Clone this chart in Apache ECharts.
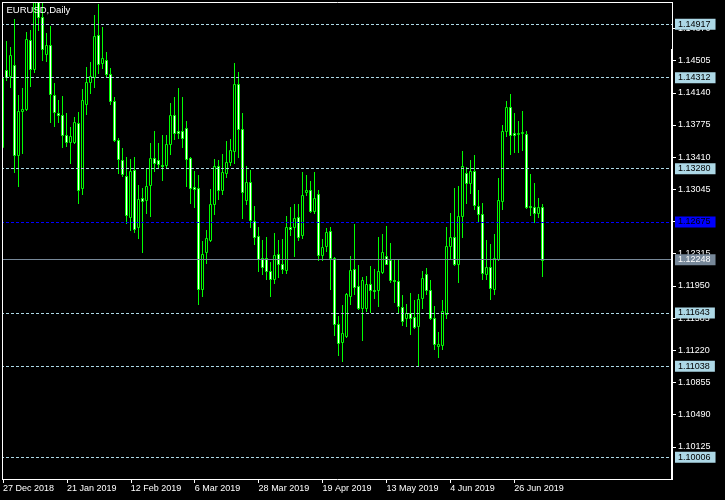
<!DOCTYPE html>
<html><head><meta charset="utf-8">
<script src="https://cdn.jsdelivr.net/npm/echarts@6/dist/echarts.min.js"></script>
<style>html,body{margin:0;padding:0;background:#000;}#c{width:725px;height:500px;}</style>
</head><body><div id="c"></div>
<script>
// ---- data ----
const symbolTitle = 'EURUSD,Daily';
const months = ['Dec 2018','Jan 2019','Feb 2019','Mar 2019','Apr 2019','May 2019','Jun 2019','Jul 2019'];
const monthDays = [
  [27,28,31],
  [2,3,4,7,8,9,10,11,14,15,16,17,18,21,22,23,24,25,28,29,30,31],
  [1,4,5,6,7,8,11,12,13,14,15,18,19,20,21,22,25,26,27,28],
  [1,4,5,6,7,8,11,12,13,14,15,18,19,20,21,22,25,26,27,28,29],
  [1,2,3,4,5,8,9,10,11,12,15,16,17,18,19,22,23,24,25,26,29,30],
  [1,2,3,6,7,8,9,10,13,14,15,16,17,20,21,22,23,24,27,28,29,30,31],
  [3,4,5,6,7,10,11,12,13,14,17,18,19,20,21,24,25,26,27,28],
  [1,2,3,4,5]
];
const opens = [1.13528,1.14399,1.14331,1.14452,1.13434,1.13929,1.13960,1.14735,1.14406,1.15380,
1.14997,1.14576,1.14679,1.14111,1.13907,1.13884,1.13657,1.13585,1.13585,1.13793,
1.13063,1.14009,1.14259,1.14315,1.14796,1.14474,1.14508,1.14353,1.14043,1.13608,
1.13373,1.13192,1.12734,1.13260,1.12616,1.12949,1.12919,1.13089,1.13396,1.13373,
1.13324,1.13320,1.13562,1.13884,1.13706,1.13706,1.13736,1.13396,1.13067,1.13055,
1.11920,1.12336,1.12473,1.12874,1.13305,1.13040,1.13226,1.13350,1.13483,1.14240,
1.13725,1.12930,1.13123,1.12681,1.12514,1.12261,1.12261,1.12117,1.12034,1.12317,
1.12196,1.12136,1.12613,1.12620,1.12737,1.12529,1.13017,1.13033,1.12794,1.12987,
1.12306,1.12397,1.12571,1.12272,1.11515,1.11318,1.11387,1.11841,1.12147,1.11947,
1.11704,1.11704,1.11977,1.11909,1.11909,1.12113,1.12291,1.12242,1.12022,1.12007,
1.11716,1.11591,1.11644,1.11602,1.11496,1.11814,1.12090,1.11909,1.11591,1.11273,
1.11284,1.11636,1.12404,1.12507,1.12193,1.12745,1.13226,1.13112,1.13248,1.12859,
1.12760,1.12083,1.12166,1.11920,1.12253,1.12908,1.13702,1.13975,1.13680,1.13676,
1.13680,1.13668,1.12855,1.12847,1.12772,1.12840];
const highs = [1.14361,1.14732,1.14664,1.14978,1.14115,1.14191,1.14826,1.14853,1.15660,1.15670,
1.15350,1.14815,1.14898,1.14247,1.14058,1.14107,1.13907,1.13755,1.13869,1.13922,
1.14183,1.14436,1.14493,1.15023,1.15144,1.14891,1.14607,1.14418,1.14088,1.13623,
1.13509,1.13415,1.13385,1.13415,1.13093,1.13055,1.13271,1.13566,1.13706,1.13574,
1.13661,1.13665,1.14028,1.14096,1.14194,1.14096,1.13820,1.13415,1.13252,1.13207,
1.12457,1.12582,1.13048,1.13385,1.13377,1.13445,1.13593,1.13619,1.14478,1.14376,
1.13911,1.13309,1.13263,1.12855,1.12620,1.12469,1.12503,1.12223,1.12552,1.12469,
1.12480,1.12741,1.12843,1.12877,1.12881,1.13241,1.13207,1.13139,1.13241,1.13036,
1.12480,1.12609,1.12613,1.12276,1.11606,1.11731,1.11871,1.12287,1.12650,1.12185,
1.12052,1.12060,1.12174,1.12140,1.12503,1.12537,1.12624,1.12431,1.12242,1.12242,
1.11844,1.11742,1.11875,1.11795,1.11863,1.12117,1.12155,1.12015,1.11720,1.11428,
1.11795,1.12613,1.12772,1.13063,1.13082,1.13479,1.13294,1.13377,1.13434,1.13036,
1.12885,1.12469,1.12423,1.12537,1.13173,1.13774,1.14047,1.14126,1.13907,1.13820,
1.13933,1.13706,1.13218,1.13116,1.12946,1.12881];
const lows = [1.13490,1.14285,1.14209,1.13245,1.13086,1.13453,1.13945,1.14217,1.14380,1.14850,
1.14512,1.14501,1.13812,1.13763,1.13812,1.13528,1.13540,1.13347,1.13566,1.12885,
1.12998,1.13895,1.14134,1.14209,1.14361,1.14418,1.14331,1.14009,1.13596,1.13233,
1.13195,1.12669,1.12582,1.12563,1.12488,1.12329,1.12772,1.12745,1.13256,1.13282,
1.13150,1.13282,1.13449,1.13615,1.13623,1.13528,1.13086,1.12893,1.12847,1.11750,
1.11837,1.12211,1.12461,1.12768,1.12938,1.12995,1.13180,1.13320,1.13347,1.13415,
1.12722,1.12877,1.12620,1.12420,1.12121,1.12090,1.12034,1.11833,1.11984,1.12052,
1.12102,1.12098,1.12533,1.12291,1.12476,1.12491,1.12976,1.12787,1.12779,1.12249,
1.12249,1.12348,1.11916,1.11398,1.11167,1.11103,1.11371,1.11742,1.11863,1.11693,
1.11341,1.11667,1.11655,1.11814,1.11723,1.12098,1.12193,1.11996,1.11769,1.11655,
1.11504,1.11496,1.11409,1.11474,1.11050,1.11704,1.11863,1.11580,1.11239,1.11144,
1.11239,1.11591,1.12261,1.12185,1.11996,1.12507,1.12893,1.13006,1.12817,1.12677,
1.12026,1.12034,1.11799,1.11863,1.12242,1.12821,1.13653,1.13441,1.13468,1.13472,
1.13490,1.12828,1.12753,1.12677,1.12726,1.12060];
const closes = [1.14304,1.14315,1.14569,1.13434,1.13933,1.13956,1.14747,1.14406,1.15380,1.14997,
1.14633,1.14679,1.14122,1.13918,1.13884,1.13657,1.13585,1.13646,1.13808,1.13033,
1.14058,1.14259,1.14327,1.14785,1.14467,1.14531,1.14349,1.14043,1.13608,1.13385,
1.13214,1.12749,1.13248,1.12590,1.12938,1.12908,1.13082,1.13396,1.13347,1.13328,
1.13309,1.13555,1.13884,1.13687,1.13687,1.13623,1.13385,1.13063,1.13052,1.11920,
1.12317,1.12488,1.12874,1.13305,1.13040,1.13241,1.13350,1.13490,1.14240,1.13725,
1.13010,1.13123,1.12692,1.12507,1.12257,1.12159,1.12117,1.12034,1.12306,1.12196,
1.12147,1.12613,1.12590,1.12722,1.12510,1.12976,1.13036,1.12798,1.12942,1.12306,
1.12386,1.12556,1.12261,1.11523,1.11307,1.11421,1.11856,1.12136,1.11939,1.11704,
1.12022,1.11977,1.11901,1.11890,1.12121,1.12329,1.12204,1.12022,1.12000,1.11727,
1.11553,1.11648,1.11591,1.11485,1.11807,1.12045,1.11909,1.11591,1.11296,1.11296,
1.11667,1.12404,1.12507,1.12196,1.12745,1.13313,1.13112,1.13248,1.12866,1.12760,
1.12102,1.12166,1.11931,1.12261,1.12919,1.13702,1.13975,1.13657,1.13665,1.13687,
1.13691,1.12847,1.12843,1.12772,1.12847,1.12248];
const priceTickStep = 0.00365;   // price scale labels 1.10125, 1.10490, ... 1.14870
const levelLines = [1.14917,1.14312,1.13280,1.11643,1.11038,1.10006];
const blueLine = 1.12675;
const bidLine = 1.12248;
const emptySlots = 32;  // chart shift on the right

// ---- build ----
const categories = [];
monthDays.forEach((days, m) => days.forEach(d => categories.push(d + ' ' + months[m])));
const nBars = categories.length;
for (let i = 0; i < emptySlots; i++) categories.push('_' + i);
const candles = opens.map((o, i) => [i, o, closes[i], lows[i], highs[i]]);

const FONT = "'Liberation Sans', Arial, sans-serif";
const showIdx = (i) => i % 16 === 0 && i < nBars;
const lbl = (bg, fg) => ({show:true, position:'end', distance:3, formatter:(p)=>Number(p.value).toFixed(5),
  color:fg, backgroundColor:bg, padding:[1,5,0,3], fontSize:9, fontFamily:FONT, lineHeight:10});
const dashLight = {color:'#ADD8E6', type:[3,2], width:1};
const markData = levelLines.map(v => ({yAxis:v, lineStyle:dashLight, label:lbl('#ADD8E6','#000000')}));
markData.push({yAxis:blueLine, lineStyle:{color:'#0000FF', type:[3,2], width:1}, label:lbl('#0000FF','#000000')});
markData.push({yAxis:bidLine, lineStyle:{color:'#778899', type:'solid', width:1}, label:lbl('#778899','#FFFFFF')});

const yMin = 1.0976, yMax = 1.1517;

function renderCandle(params, api) {
  const k = api.value(0), o = api.value(1), c = api.value(2), l = api.value(3), h = api.value(4);
  const pO = api.coord([k, o]), pC = api.coord([k, c]);
  const pL = api.coord([k, l]), pH = api.coord([k, h]);
  const x = Math.floor(pO[0]) + 0.5;
  const yTop = Math.round(Math.min(pO[1], pC[1])) + 0.5;
  const yBot = Math.round(Math.max(pO[1], pC[1])) + 0.5;
  const bull = c >= o;
  return {type:'group', children:[
    {type:'line', shape:{x1:x, y1:Math.round(pH[1]), x2:x, y2:Math.round(pL[1]) + 1}, style:{stroke:'#00FF00', lineWidth:1}},
    {type:'rect', shape:{x:x - 1, y:yTop, width:2, height:yBot - yTop}, style:{fill:bull ? '#000000' : '#FFFFFF', stroke:'#00FF00', lineWidth:1}}
  ]};
}

const chart = echarts.init(document.getElementById('c'));
chart.setOption({
  animation:false,
  backgroundColor:'#000000',
  grid:{left:0, top:2, width:672, height:477},
  xAxis:{type:'category', data:categories, boundaryGap:true,
    axisLine:{show:false}, splitLine:{show:false},
    axisTick:{show:true, alignWithLabel:true, interval:(i)=>showIdx(i), length:4, lineStyle:{color:'#FFFFFF'}},
    axisLabel:{interval:(i)=>showIdx(i), color:'#FFFFFF', fontSize:9, fontFamily:FONT, align:'left', margin:5}},
  yAxis:{type:'value', position:'right', min:yMin, max:yMax, interval:priceTickStep,
    axisLine:{show:false}, splitLine:{show:false},
    axisTick:{show:true, length:4, lineStyle:{color:'#FFFFFF'}},
    axisLabel:{formatter:(v)=>v.toFixed(5), color:'#FFFFFF', fontSize:9, fontFamily:FONT, margin:6, showMinLabel:false, showMaxLabel:false}},
  series:[{type:'custom', data:candles, encode:{x:0, y:[1,2,3,4]}, clip:true, renderItem:renderCandle,
    markLine:{silent:true, precision:5, symbol:['none','none'], animation:false, data:markData}}],
  graphic:[
    {type:'rect', z:100, shape:{x:0,y:0,width:2,height:480}, style:{fill:'#000000'}},
    {type:'line', z:101, shape:{x1:2.5,y1:2,x2:2.5,y2:480}, style:{stroke:'#FFFFFF',lineWidth:1}},
    {type:'line', z:101, shape:{x1:2,y1:2.5,x2:673,y2:2.5}, style:{stroke:'#FFFFFF',lineWidth:1}},
    {type:'line', z:101, shape:{x1:672.5,y1:2,x2:672.5,y2:480}, style:{stroke:'#FFFFFF',lineWidth:1}},
    {type:'rect', z:101, shape:{x:671,y:49,width:2,height:431}, style:{fill:'#FFFFFF'}},
    {type:'line', z:101, shape:{x1:2,y1:479.5,x2:673,y2:479.5}, style:{stroke:'#FFFFFF',lineWidth:1}},
    {type:'text', z:102, x:6.5, y:5, style:{text:symbolTitle, fill:'#FFFFFF', fontSize:9.5, fontFamily:FONT, textVerticalAlign:'top'}}
  ]
});
</script></body></html>
